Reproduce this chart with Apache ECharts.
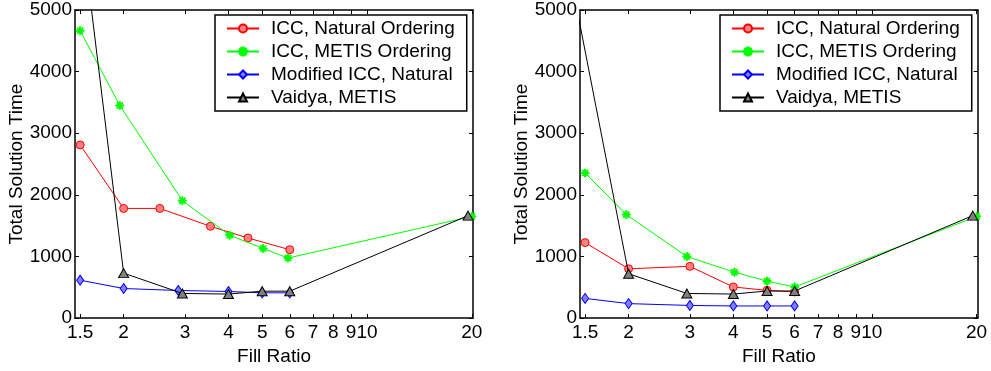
<!DOCTYPE html>
<html><head><meta charset="utf-8">
<script src="https://cdn.jsdelivr.net/npm/echarts@6/dist/echarts.min.js"></script>
<style>html,body{margin:0;padding:0;background:#fff}#c{width:991px;height:371px}</style>
</head><body><div id="c"></div>
<script>
const seriesNames = ['ICC, Natural Ordering', 'ICC, METIS Ordering', 'Modified ICC, Natural', 'Vaidya, METIS'];
const xTickValues = [1.5, 2, 3, 4, 5, 6, 7, 8, 9, 10, 20];
const yTickValues = [0, 1000, 2000, 3000, 4000, 5000];
const xLabel = 'Fill Ratio';
const yLabel = 'Total Solution Time';

// Left panel
const leftIccNaturalX = [1.5, 2.0, 2.54, 3.55, 4.55, 6.0];
const leftIccNaturalY = [2810, 1780, 1780, 1490, 1300, 1110];
const leftIccMetisX = [1.5, 1.95, 2.95, 4.03, 5.03, 5.93, 20];
const leftIccMetisY = [4665, 3450, 1905, 1345, 1130, 975, 1650];
const leftModIccX = [1.5, 2.0, 2.87, 4.0, 5.0, 6.0];
const leftModIccY = [615, 480, 448, 432, 410, 410];
const leftVaidyaX = [1.4, 2.0, 2.95, 4.0, 5.0, 6.0, 19.5];
const leftVaidyaY = [7900, 730, 400, 390, 437, 437, 1663];

// Right panel
const rightIccNaturalX = [1.5, 2.0, 3.0, 4.0, 5.0, 6.0];
const rightIccNaturalY = [1225, 800, 840, 505, 450, 425];
const rightIccMetisX = [1.5, 1.97, 2.94, 4.03, 5.0, 6.0, 20];
const rightIccMetisY = [2355, 1680, 1000, 745, 600, 505, 1650];
const rightModIccX = [1.5, 2.0, 3.0, 4.0, 5.0, 6.0];
const rightModIccY = [320, 235, 205, 197, 197, 197];
const rightVaidyaX = [1.4, 2.0, 2.94, 4.0, 5.0, 6.0, 19.5];
const rightVaidyaY = [5200, 720, 400, 390, 440, 440, 1663];

const FONT = "'Liberation Sans', Arial, Helvetica, sans-serif";
const STAR = 'path://M0,4.3L10,4.3L10,5.7L0,5.7Z M4.3,0L5.7,0L5.7,10L4.3,10Z M2,1L9,8L8,9L1,2Z M8,1L9,2L2,9L1,8Z';

const grids = [
  {left: 75, top: 10, width: 398, height: 313.3},
  {left: 580, top: 10, width: 397.7, height: 313.3}
];

function xAxes(gi) {
  const common = {
    type: 'log', gridIndex: gi, min: 1.45, max: 20.15,
    splitLine: {show: false}, minorTick: {show: false}, minorSplitLine: {show: false},
    axisLine: {show: true, onZero: false, lineStyle: {color: '#000', width: 1.5}},
    axisTick: {show: true, inside: true, length: 4, customValues: xTickValues, lineStyle: {color: '#000', width: 1}}
  };
  return [
    Object.assign({}, common, {
      position: 'bottom', name: xLabel, nameLocation: 'middle', nameGap: 24,
      nameTextStyle: {color: '#000', fontSize: 19, fontFamily: FONT},
      axisLabel: {show: true, customValues: xTickValues, interval: 0, margin: 5, color: '#000', fontSize: 19, fontFamily: FONT, formatter: v => String(v), hideOverlap: false}
    }),
    Object.assign({}, common, {position: 'top', axisLabel: {show: false}})
  ];
}
function yAxes(gi) {
  const common = {
    type: 'value', gridIndex: gi, min: 0, max: 5000, interval: 1000,
    splitLine: {show: false},
    axisLine: {show: true, onZero: false, lineStyle: {color: '#000', width: 1.5}},
    axisTick: {show: true, inside: true, length: 4, customValues: yTickValues, lineStyle: {color: '#000', width: 1}}
  };
  return [
    Object.assign({}, common, {
      position: 'left', name: yLabel, nameLocation: 'middle', nameGap: 38, nameRotate: 90,
      nameTextStyle: {color: '#000', fontSize: 19, fontFamily: FONT},
      axisLabel: {show: true, customValues: yTickValues, margin: 3, color: '#000', fontSize: 19, fontFamily: FONT, formatter: v => String(v)}
    }),
    Object.assign({}, common, {position: 'right', axisLabel: {show: false}})
  ];
}

function pairs(xs, ys) { return xs.map((x, i) => [x, ys[i]]); }

const styles = [
  {color: '#ff0000', symbol: 'circle', symbolSize: 8, fill: '#ff8080'},
  {color: '#00ff00', symbol: STAR, symbolSize: 8, fill: '#00ff00'},
  {color: '#0000ff', symbol: 'diamond', symbolSize: [7, 10], fill: '#8080ff'},
  {color: '#000000', symbol: 'triangle', symbolSize: [10, 9], fill: '#808080'}
];

function mkSeries(k, data, xi, yi) {
  const s = styles[k];
  return {
    type: 'line', name: seriesNames[k], data: data, xAxisIndex: xi, yAxisIndex: yi,
    symbol: s.symbol, symbolSize: s.symbolSize, showAllSymbol: true, clip: true,
    lineStyle: {color: s.color, width: 1},
    itemStyle: {color: s.fill, borderColor: s.color, borderWidth: 1},
    emphasis: {disabled: true}, z: 2 + k
  };
}

const leftData = [pairs(leftIccNaturalX, leftIccNaturalY), pairs(leftIccMetisX, leftIccMetisY), pairs(leftModIccX, leftModIccY), pairs(leftVaidyaX, leftVaidyaY)];
const rightData = [pairs(rightIccNaturalX, rightIccNaturalY), pairs(rightIccMetisX, rightIccMetisY), pairs(rightModIccX, rightModIccY), pairs(rightVaidyaX, rightVaidyaY)];

const series = [];
leftData.forEach((d, k) => series.push(mkSeries(k, d, 0, 0)));
rightData.forEach((d, k) => series.push(mkSeries(k, d, 2, 2)));

function legend(left) {
  return {
    left: left, top: 15, orient: 'vertical', data: seriesNames,
    backgroundColor: '#fff', borderColor: '#000', borderWidth: 1.5,
    padding: [4, 12, 4, 11], itemWidth: 32, itemHeight: 10, itemGap: 4,
    selectedMode: false,
    textStyle: {color: '#000', fontSize: 19, fontFamily: FONT, lineHeight: 19, padding: [0, 0, 0, 7]}
  };
}

const chart = echarts.init(document.getElementById('c'), null, {renderer: 'canvas'});
chart.setOption({
  animation: false,
  backgroundColor: '#fff',
  grid: grids,
  xAxis: xAxes(0).concat(xAxes(1)),
  yAxis: yAxes(0).concat(yAxes(1)),
  legend: [legend(215), legend(720)],
  series: series
});
</script></body></html>
